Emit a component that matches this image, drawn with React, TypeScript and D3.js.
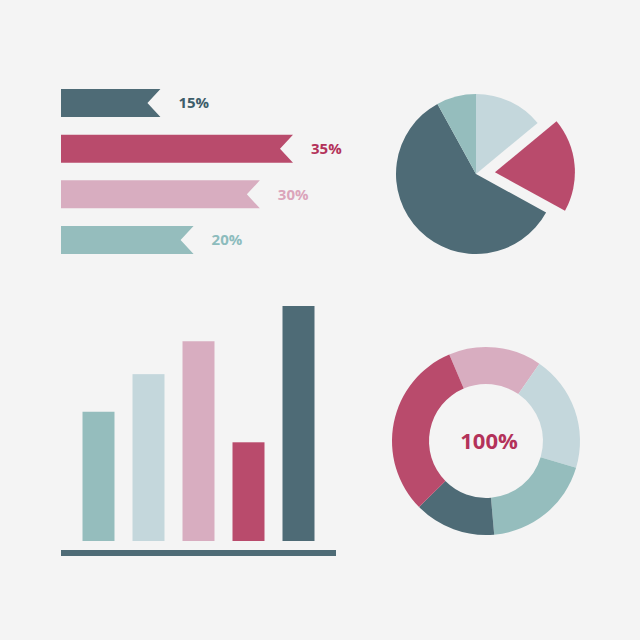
import { useEffect, useRef } from 'react'
import * as d3 from 'd3'

const ribbonLabels = ['15%', '35%', '30%', '20%']
const ribbonValues = [15, 35, 30, 20]
const ribbonColors = ['#4e6b76', '#b94b6c', '#d8adc0', '#95bdbd']
const ribbonTextColors = ['#3d5d6a', '#b3325a', '#dba5bb', '#8dbcbd']

const pieNames = ['light', 'crimson', 'dark', 'teal']
const pieValues = [14, 19, 59, 8]
const pieColors = ['#c4d7dc', '#b94b6c', '#4e6b76', '#95bdbd']
const pieExploded = 'crimson'

const barCategories = ['A', 'B', 'C', 'D', 'E']
const barValues = [55, 71, 85, 42, 100]
const barColors = ['#95bdbd', '#c4d7dc', '#d8adc0', '#b94b6c', '#4e6b76']

const donutNames = ['pink', 'light', 'teal', 'dark', 'crimson']
const donutValues = [16, 20, 19, 14, 31]
const donutColors = ['#d8adc0', '#c4d7dc', '#95bdbd', '#4e6b76', '#b94b6c']
const donutLabel = '100%'

const FONT = '"Open Sans", "Noto Sans", sans-serif'

export default function App() {
  const svgRef = useRef<SVGSVGElement | null>(null)

  useEffect(() => {
    document.body.style.margin = '0'
    const svg = d3.select(svgRef.current)
    svg.selectAll('*').remove()

    svg.append('rect').attr('width', 640).attr('height', 640).attr('fill', '#f4f4f4')

    // ribbons (top left)
    const rx = d3.scaleLinear().domain([0, 35]).range([0, 232])
    const ry = d3.scaleBand<string>().domain(ribbonLabels).range([89, 254]).paddingInner(0.387)
    const x0 = 61
    const notch = 13
    const rib = svg.append('g')
    ribbonLabels.forEach((lab, i) => {
      const y0 = ry(lab)!
      const h = ry.bandwidth()
      const x1 = x0 + rx(ribbonValues[i])
      const pts: [number, number][] = [
        [x0, y0], [x1, y0], [x1 - notch, y0 + h / 2], [x1, y0 + h], [x0, y0 + h],
      ]
      rib.append('path')
        .attr('d', d3.line()(pts) + 'Z')
        .attr('fill', ribbonColors[i])
      rib.append('text')
        .attr('x', x1 + 18).attr('y', y0 + h / 2)
        .attr('dy', '0.36em')
        .attr('fill', ribbonTextColors[i])
        .attr('font-family', FONT).attr('font-weight', 700).attr('font-size', 15)
        .text(lab)
    })

    // pie (top right)
    const pie = d3.pie<number>().sort(null)
    const pieArcs = pie(pieValues)
    const pieArc = d3.arc<d3.PieArcDatum<number>>().innerRadius(0).outerRadius(80)
    const pg = svg.append('g').attr('transform', 'translate(476,174)')
    pieArcs.forEach((a, i) => {
      let dx = 0, dy = 0
      if (pieNames[i] === pieExploded) {
        const mid = (a.startAngle + a.endAngle) / 2
        dx = Math.sin(mid) * 19
        dy = -Math.cos(mid) * 19
      }
      pg.append('path')
        .attr('d', pieArc(a))
        .attr('transform', `translate(${dx},${dy})`)
        .attr('fill', pieColors[i])
    })

    // bars (bottom left)
    const bx = d3.scaleBand<string>().domain(barCategories).range([61, 336])
      .paddingInner(0.36).paddingOuter(0.43)
    const by = d3.scaleLinear().domain([0, 100]).range([541, 306])
    const bg = svg.append('g')
    bg.selectAll('rect.bar')
      .data(barValues)
      .join('rect')
      .attr('class', 'bar')
      .attr('x', (_, i) => bx(barCategories[i])!)
      .attr('y', (d) => by(d))
      .attr('width', bx.bandwidth())
      .attr('height', (d) => by(0) - by(d))
      .attr('fill', (_, i) => barColors[i])
    bg.append('rect')
      .attr('x', 61).attr('y', by(0) + 9)
      .attr('width', 275).attr('height', 6)
      .attr('fill', '#4e6b76')

    // donut (bottom right)
    const dpie = d3.pie<number>().sort(null).startAngle(-23 * Math.PI / 180).endAngle((360 - 23) * Math.PI / 180)
    const darc = d3.arc<d3.PieArcDatum<number>>().innerRadius(57).outerRadius(94)
    const dg = svg.append('g').attr('transform', 'translate(486,441)')
    dpie(donutValues).forEach((a, i) => {
      dg.append('path').attr('d', darc(a)).attr('fill', donutColors[i])
    })
    dg.append('text')
      .attr('x', 3)
      .attr('text-anchor', 'middle').attr('dy', '0.36em')
      .attr('fill', '#b3325a')
      .attr('font-family', FONT).attr('font-weight', 700).attr('font-size', 22)
      .text(donutLabel)
  }, [])

  return <svg ref={svgRef} width={640} height={640} style={{ display: 'block' }} />
}
